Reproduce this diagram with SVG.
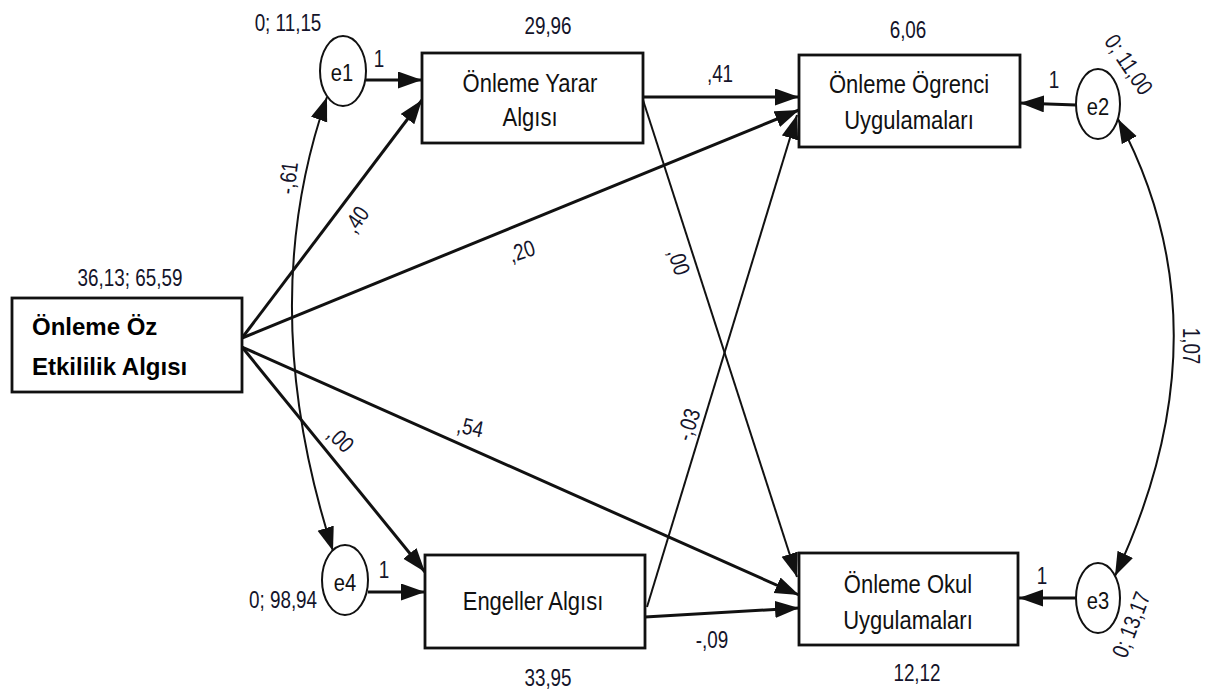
<svg xmlns="http://www.w3.org/2000/svg" width="1216" height="693" viewBox="0 0 1216 693">
  <style>
    .box { fill: #fff; stroke: #111; stroke-width: 2.8; }
    .err { fill: #fff; stroke: #111; stroke-width: 2; }
    .sx { transform-box: fill-box; transform-origin: center; }
    .lbl { font-family: "Liberation Sans", Arial, sans-serif; font-size: 25px; fill: #111; text-anchor: middle; transform: scaleX(0.88); }
    .bold { font-family: "Liberation Sans", Arial, sans-serif; font-size: 24px; font-weight: bold; fill: #000; }
    .num { font-family: "Liberation Sans", Arial, sans-serif; font-size: 23px; fill: #14142a; text-anchor: middle; transform: scaleX(0.82); }
    .elb { font-family: "Liberation Sans", Arial, sans-serif; font-size: 24px; fill: #111; text-anchor: middle; transform: scaleX(0.84); }
    .path { fill: none; stroke: #111; stroke-width: 3; marker-end: url(#head); }
    .thin { fill: none; stroke: #111; stroke-width: 2; marker-end: url(#head); }
    .cov { fill: none; stroke: #111; stroke-width: 2; marker-start: url(#head); marker-end: url(#head); }
  </style>
  <defs>
    <marker id="head" markerUnits="userSpaceOnUse" markerWidth="26" markerHeight="20" refX="24" refY="8.5" orient="auto-start-reverse">
      <path d="M0,0 L24,8.5 L0,17 z" fill="#111"/>
    </marker>
  </defs>

  <rect width="1216" height="693" fill="#fff"/>

  <!-- connectors -->
  <g id="connectors">
    <path class="path" d="M366,80 L422,80"/>
    <path class="path" d="M242,338 L422,100"/>
    <path class="path" d="M242,338 L799,110"/>
    <path class="path" d="M643,97 L799,97"/>
    <path class="path" d="M242,347 L425,572"/>
    <path class="path" d="M242,347 L799,595"/>
    <path class="path" d="M645,617 L799,608"/>
    <path class="path" d="M368,592 L425,592"/>
    <path class="path" d="M1076,105 L1020,103"/>
    <path class="path" d="M1076,598 L1019,598"/>
    <path class="thin" d="M643,100 L797,577"/>
    <path class="thin" d="M647,607 L797,115"/>
    <path class="cov" d="M327,97 Q254,306 333,551"/>
    <path class="cov" d="M1118,119 Q1231,330 1115,576"/>

    <!-- coefficients -->
    <text class="num sx" x="720" y="82">,41</text>
    <text class="num sx" x="712" y="648">-,09</text>
    <g transform="translate(357,220) rotate(-55)"><text class="num sx" y="7">,40</text></g>
    <g transform="translate(289,178) rotate(-83)"><text class="num sx" y="7">-,61</text></g>
    <g transform="translate(522,252) rotate(-18)"><text class="num sx" y="7">,20</text></g>
    <g transform="translate(470,428) rotate(12)"><text class="num sx" y="7">,54</text></g>
    <g transform="translate(340,440) rotate(45)"><text class="num sx" y="7">,00</text></g>
    <g transform="translate(678,262) rotate(72)"><text class="num sx" y="7">,00</text></g>
    <g transform="translate(689,425) rotate(-72)"><text class="num sx" y="7">-,03</text></g>
    <g transform="translate(1190,346) rotate(90)"><text class="num sx" y="7">1,07</text></g>
    <text class="num sx" x="379" y="67">1</text>
    <text class="num sx" x="384" y="578">1</text>
    <text class="num sx" x="1054" y="88">1</text>
    <text class="num sx" x="1042" y="584">1</text>
  </g>

  <g id="oz">
    <rect class="box" x="12" y="298" width="230" height="94"/>
    <text class="bold" x="32" y="335">Önleme Öz</text>
    <text class="bold" x="32" y="375">Etkililik Algısı</text>
    <text class="num sx" x="130" y="286">36,13; 65,59</text>
  </g>

  <g id="yarar">
    <rect class="box" x="422" y="53" width="221" height="90"/>
    <text class="lbl sx" x="530" y="92">Önleme Yarar</text>
    <text class="lbl sx" x="530" y="126">Algısı</text>
    <text class="num sx" x="548" y="34">29,96</text>
  </g>

  <g id="ogrenci">
    <rect class="box" x="799" y="55" width="221" height="92"/>
    <text class="lbl sx" x="909" y="93">Önleme Ögrenci</text>
    <text class="lbl sx" x="909" y="129">Uygulamaları</text>
    <text class="num sx" x="908" y="38">6,06</text>
  </g>

  <g id="engeller">
    <rect class="box" x="425" y="555" width="220" height="93"/>
    <text class="lbl sx" x="533" y="610">Engeller Algısı</text>
    <text class="num sx" x="548" y="686">33,95</text>
  </g>

  <g id="okul">
    <rect class="box" x="799" y="553" width="219" height="92"/>
    <text class="lbl sx" x="908" y="593">Önleme Okul</text>
    <text class="lbl sx" x="908" y="629">Uygulamaları</text>
    <text class="num sx" x="917" y="681">12,12</text>
  </g>

  <g id="e1">
    <ellipse class="err" cx="343" cy="71" rx="23" ry="35"/>
    <text class="elb sx" x="342" y="81">e1</text>
    <text class="num sx" x="288" y="31">0; 11,15</text>
  </g>

  <g id="e4">
    <ellipse class="err" cx="345" cy="580" rx="23" ry="35"/>
    <text class="elb sx" x="345" y="591">e4</text>
    <text class="num sx" x="283" y="608">0; 98,94</text>
  </g>

  <g id="e2">
    <ellipse class="err" cx="1098" cy="104" rx="22" ry="35"/>
    <text class="elb sx" x="1098" y="115">e2</text>
    <g transform="translate(1128,65) rotate(56)"><text class="num sx" y="7">0; 11,00</text></g>
  </g>

  <g id="e3">
    <ellipse class="err" cx="1098" cy="598" rx="22" ry="35"/>
    <text class="elb sx" x="1098" y="609">e3</text>
    <g transform="translate(1132,625) rotate(-69)"><text class="num sx" y="7">0; 13,17</text></g>
  </g>
</svg>
